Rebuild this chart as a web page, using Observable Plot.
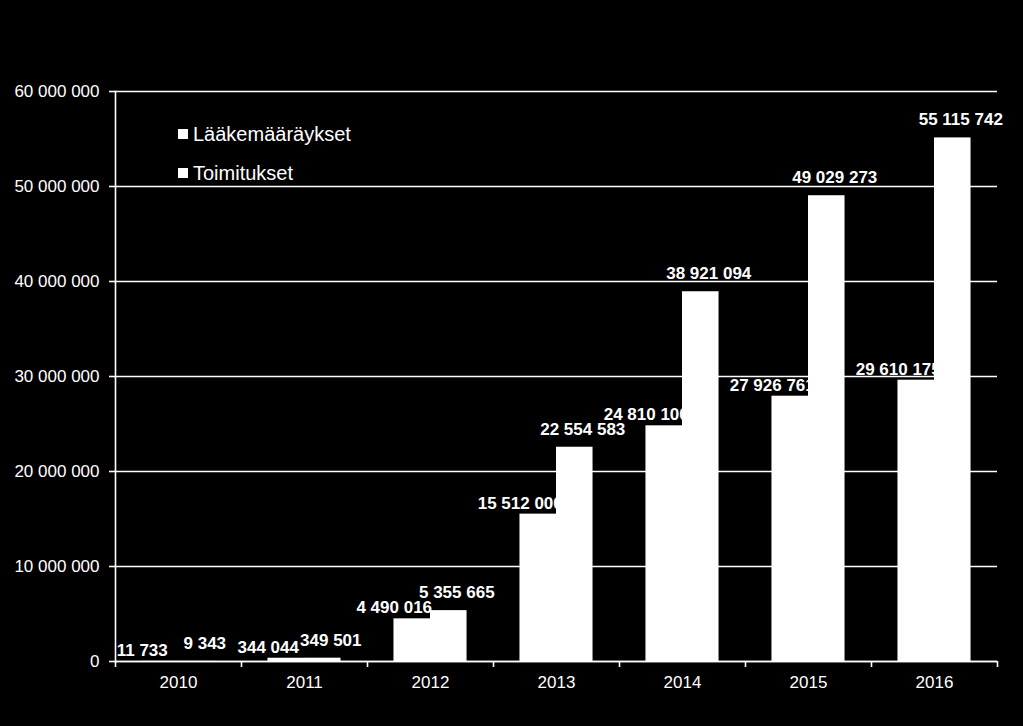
<!DOCTYPE html>
<html>
<head>
<meta charset="utf-8">
<script src="https://cdn.jsdelivr.net/npm/d3@7"></script>
<script src="https://cdn.jsdelivr.net/npm/@observablehq/plot@0.6"></script>
<style>
  html, body { margin: 0; padding: 0; background: #000; }
  #wrap { position: relative; width: 1023px; height: 726px; background: #000; font-family: "Liberation Sans", Arial, sans-serif; }
  .legend { position: absolute; left: 178px; color: #fff; font-size: 20px; line-height: 22px; display: flex; align-items: center; }
  .legend .sw { width: 10px; height: 10px; background: #fff; margin-right: 5px; }
</style>
</head>
<body>
<div id="wrap"></div>
<script>
const years = [2010, 2011, 2012, 2013, 2014, 2015, 2016];
const seriesNames = ["Lääkemääräykset", "Toimitukset"];
const laakemaaraykset = [11733, 344044, 4490016, 15512000, 24810100, 27926761, 29610175];
const toimitukset = [9343, 349501, 5355665, 22554583, 38921094, 49029273, 55115742];
const yTicks = [0, 10000000, 20000000, 30000000, 40000000, 50000000, 60000000];

const fmt = v => d3.format(",")(v).replace(/,/g, " ");
const barFrac = 0.29;

const data1 = years.map((y, i) => ({year: y, value: laakemaaraykset[i]}));
const data2 = years.map((y, i) => ({year: y, value: toimitukset[i]}));
const bounds = [years[0] - 0.5, ...years.map(y => y + 0.5)];

const chart = Plot.plot({
  width: 1023,
  height: 726,
  marginLeft: 115,
  marginRight: 26,
  marginTop: 91,
  marginBottom: 65,
  style: {background: "black", color: "white", fontFamily: "'Liberation Sans', Arial, sans-serif", fontSize: "17px"},
  x: {type: "linear", domain: [years[0] - 0.5, years[years.length - 1] + 0.5]},
  y: {domain: [0, 60000000]},
  marks: [
    Plot.ruleY(yTicks, {stroke: "white", strokeWidth: 1.6}),
    Plot.frame({anchor: "left", stroke: "white", strokeWidth: 1.6}),
    Plot.axisY({ticks: yTicks, tickSize: 6, tickPadding: 10, tickFormat: fmt, label: null, stroke: "white", strokeWidth: 1.6, fontSize: 17}),
    Plot.axisX({ticks: bounds, tickSize: 6, tickFormat: () => "", label: null, stroke: "white", strokeWidth: 1.6}),
    Plot.axisX({ticks: years, tickSize: 0, tickPadding: 14, tickFormat: d => String(d), label: null, fontSize: 17}),
    Plot.ruleY([0], {stroke: "white", strokeWidth: 1.6}),
    Plot.rect(data1, {x1: d => d.year - barFrac, x2: d => d.year, y1: 0, y2: "value", fill: "white"}),
    Plot.text(data1, {x: d => d.year - barFrac / 2, y: "value", text: d => fmt(d.value), dx: -18, dy: -11, fill: "white", fontWeight: "bold", fontSize: 17, textAnchor: "middle", lineAnchor: "middle"}),
    Plot.rect(data2, {x1: d => d.year, x2: d => d.year + barFrac, y1: 0, y2: "value", fill: "white"}),
    Plot.text(data2, {x: d => d.year + barFrac / 2, y: "value", text: d => fmt(d.value), dx: 8, dy: -18, fill: "white", fontWeight: "bold", fontSize: 17, textAnchor: "middle", lineAnchor: "middle"})
  ]
});

const wrap = document.getElementById("wrap");
wrap.appendChild(chart);
seriesNames.forEach((name, i) => {
  const el = document.createElement("div");
  el.className = "legend";
  el.style.top = (123 + i * 39) + "px";
  el.innerHTML = '<span class="sw"></span><span>' + name + '</span>';
  wrap.appendChild(el);
});
</script>
</body>
</html>
